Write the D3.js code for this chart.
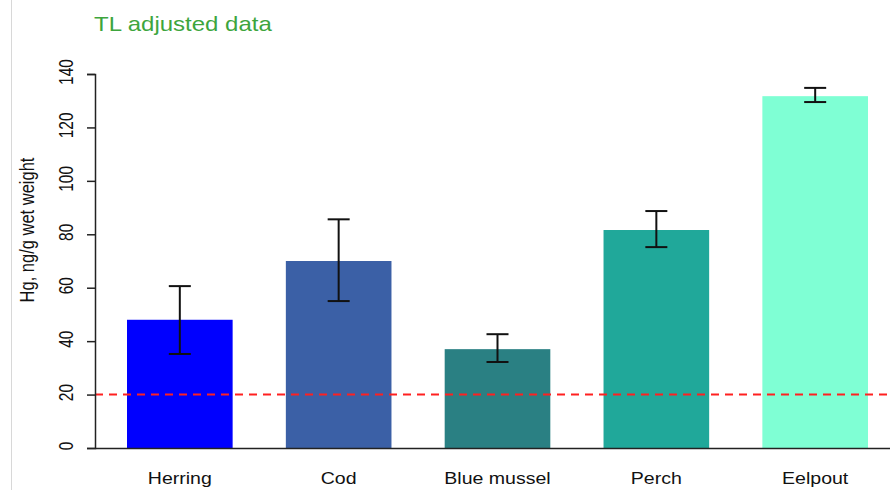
<!DOCTYPE html>
<html><head><meta charset="utf-8">
<script src="https://cdn.jsdelivr.net/npm/d3@7"></script>
<style>body{margin:0;background:#fff;}svg{display:block;font-family:"Liberation Sans",Arial,sans-serif;}</style>
</head><body><svg id="c" width="890" height="490"></svg>
<script>
const categories = ["Herring","Cod","Blue mussel","Perch","Eelpout"];
const values = [48, 70, 37, 81.6, 131.7];
const errLow = [35.2, 55, 32.2, 75.2, 129.5];
const errHigh = [60.6, 85.6, 42.6, 88.7, 134.8];
const colors = ["#0000FF","#3B60A6","#2A8083","#20A89A","#7FFFD4"];
const yTicks = [0,20,40,60,80,100,120,140];
const refLine = 20;

const svg = d3.select("#c");
svg.append("line").attr("x1",11.5).attr("x2",11.5).attr("y1",0).attr("y2",490).attr("stroke","#d8d8d8");

const y = d3.scaleLinear().domain([0,140]).range([448,74]);
const x = d3.scaleBand().domain(categories).range([100,895]).paddingInner(0.335).paddingOuter(0.17);

svg.append("text").attr("transform","translate(94,31) scale(1.2,1)").attr("fill","#3DA53D").attr("font-size",20).text("TL adjusted data");

// bars
svg.selectAll("rect.bar").data(categories).enter().append("rect")
  .attr("x",d=>x(d)).attr("width",x.bandwidth())
  .attr("y",(d,i)=>y(values[i])).attr("height",(d,i)=>y(0)-y(values[i]))
  .attr("fill",(d,i)=>colors[i]);

// reference line
svg.append("line").attr("x1",95).attr("x2",890).attr("y1",y(refLine)).attr("y2",y(refLine))
  .attr("stroke","#FF2020").attr("stroke-width",2).attr("stroke-dasharray","8,6");

// error bars
const eb = svg.append("g").attr("stroke","#111").attr("stroke-width",2);
categories.forEach((c,i)=>{
  const cx = x(c)+x.bandwidth()/2;
  eb.append("line").attr("x1",cx).attr("x2",cx).attr("y1",y(errLow[i])).attr("y2",y(errHigh[i]));
  eb.append("line").attr("x1",cx-11).attr("x2",cx+11).attr("y1",y(errLow[i])).attr("y2",y(errLow[i]));
  eb.append("line").attr("x1",cx-11).attr("x2",cx+11).attr("y1",y(errHigh[i])).attr("y2",y(errHigh[i]));
});

// x axis line
svg.append("line").attr("x1",95).attr("x2",890).attr("y1",448.5).attr("y2",448.5).attr("stroke","#222").attr("stroke-width",1.5);

// y axis
const yAxis = svg.append("g").attr("transform","translate(95,0)")
  .call(d3.axisLeft(y).tickValues(yTicks).tickSize(8).tickFormat(d3.format("d")));
yAxis.select(".domain").attr("stroke","#222").attr("stroke-width",1.5);
yAxis.selectAll(".tick line").attr("stroke","#222").attr("stroke-width",1.5);
yAxis.selectAll(".tick text").attr("font-size",15.5).attr("fill","#111")
  .attr("text-anchor","middle").attr("x",0).attr("y",0).attr("dy","0")
  .attr("transform","translate(-22,-2.5) scale(1.3,1) rotate(-90)");

// category labels
svg.selectAll("text.cat").data(categories).enter().append("text")
  .attr("transform",d=>`translate(${x(d)+x.bandwidth()/2},484) scale(1.15,1)`).attr("text-anchor","middle")
  .attr("font-size",17).attr("fill","#111").text(d=>d);

// y label
svg.append("text").attr("transform","translate(34,230) scale(1.2,1) rotate(-90)").attr("text-anchor","middle")
  .attr("font-size",16.5).attr("fill","#111").text("Hg, ng/g wet weight");
</script></body></html>
